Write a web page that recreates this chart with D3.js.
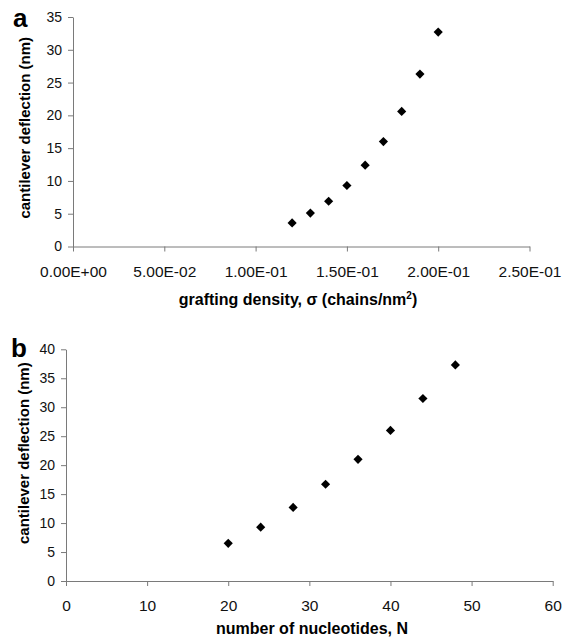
<!DOCTYPE html>
<html><head><meta charset="utf-8">
<script src="https://cdn.jsdelivr.net/npm/d3@7"></script>
<style>body{margin:0;background:#fff}svg{display:block}</style>
</head><body>
<svg id="c" width="563" height="637"></svg>
<script>
// Panel a data
const sigma = [0.12, 0.13, 0.14, 0.15, 0.16, 0.17, 0.18, 0.19, 0.20];
const deflA = [3.6, 5.1, 6.9, 9.3, 12.4, 16.0, 20.6, 26.3, 32.7];
const xTicksA = [0, 0.05, 0.10, 0.15, 0.20, 0.25];
const yTicksA = [0, 5, 10, 15, 20, 25, 30, 35];
// Panel b data
const nucleotides = [20, 24, 28, 32, 36, 40, 44, 48];
const deflB = [6.5, 9.3, 12.7, 16.7, 21.0, 26.0, 31.5, 37.3];
const xTicksB = [0, 10, 20, 30, 40, 50, 60];
const yTicksB = [0, 5, 10, 15, 20, 25, 30, 35, 40];

const svg = d3.select("#c");
const FONT = "Arial, 'Liberation Sans', sans-serif";
const axisColor = "#7a7a7a";

function sciFmt(v){
  if (v === 0) return "0.00E+00";
  let s = v.toExponential(2);
  let [m, e] = s.split("e");
  let sign = e[0] === "-" ? "-" : "+";
  let ex = Math.abs(parseInt(e)).toString().padStart(2, "0");
  return m + "E" + sign + ex;
}

function panel(opts){
  const x = d3.scaleLinear().domain(opts.xDomain).range([opts.x0, opts.x1]);
  const y = d3.scaleLinear().domain(opts.yDomain).range([opts.y0, opts.y1]);
  const g = svg.append("g");

  const xa = g.append("g").attr("transform", `translate(0,${opts.y0})`)
    .call(d3.axisBottom(x).tickValues(opts.xTicks).tickSize(5).tickSizeOuter(0).tickPadding(14).tickFormat(opts.xFmt));
  xa.selectAll("text").attr("font-size", 15.5).attr("font-family", FONT).attr("fill", "#111");
  const ya = g.append("g").attr("transform", `translate(${opts.x0},0)`)
    .call(d3.axisLeft(y).tickValues(opts.yTicks).tickSize(5).tickSizeOuter(0).tickPadding(6).tickFormat(d3.format("d")));
  ya.selectAll("text").attr("font-size", 14).attr("font-family", FONT).attr("fill", "#111");
  g.selectAll(".domain, .tick line").attr("stroke", axisColor).attr("stroke-width", 1);

  const sym = d3.symbol().type(d3.symbolSquare).size(42);
  g.selectAll("path.pt").data(opts.xs).join("path").attr("class", "pt")
    .attr("d", sym)
    .attr("transform", (d, i) => `translate(${x(d)},${y(opts.ys[i])}) rotate(45)`)
    .attr("fill", "#000");

  g.append("text")
    .attr("transform", `translate(${opts.yTitleX},${(opts.y0 + opts.y1) / 2 + opts.yTitleDy}) rotate(-90)`)
    .attr("text-anchor", "middle").attr("font-family", FONT).attr("font-weight", "bold")
    .attr("font-size", 15).text("cantilever deflection (nm)");

  g.append("text").attr("x", opts.letterX).attr("y", opts.letterY)
    .attr("font-family", FONT).attr("font-weight", "bold").attr("font-size", 26).text(opts.letter);

  return {x, y, g};
}

const A = panel({
  xDomain: [0, 0.25], yDomain: [0, 35], x0: 73, x1: 529.5, y0: 246.5, y1: 17,
  xTicks: xTicksA, yTicks: yTicksA, xFmt: sciFmt, xs: sigma, ys: deflA,
  yTitleX: 30, yTitleDy: -4, letter: "a", letterX: 13, letterY: 27
});
const tA = A.g.append("text").attr("x", 298).attr("y", 305).attr("text-anchor", "middle")
  .attr("font-family", FONT).attr("font-weight", "bold").attr("font-size", 16);
tA.append("tspan").text("grafting density, \u03c3 (chains/nm");
tA.append("tspan").attr("font-size", 10).attr("dy", -6).text("2");
tA.append("tspan").attr("dy", 6).text(")");

const B = panel({
  xDomain: [0, 60], yDomain: [0, 40], x0: 66, x1: 552.7, y0: 581, y1: 349.3,
  xTicks: xTicksB, yTicks: yTicksB, xFmt: d3.format("d"), xs: nucleotides, ys: deflB,
  yTitleX: 29, yTitleDy: -12, letter: "b", letterX: 11, letterY: 357
});
B.g.append("text").attr("x", 312).attr("y", 634).attr("text-anchor", "middle")
  .attr("font-family", FONT).attr("font-weight", "bold").attr("font-size", 16)
  .text("number of nucleotides, N");
</script>
</body></html>
